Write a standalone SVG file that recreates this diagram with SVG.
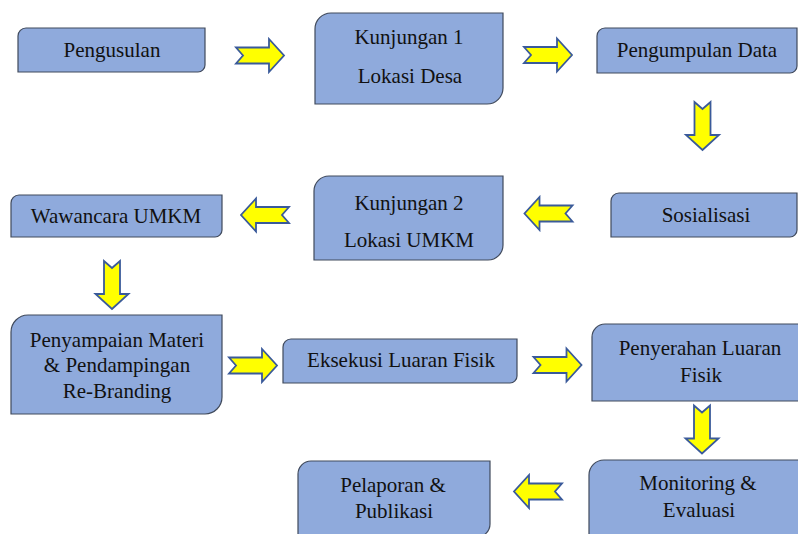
<svg xmlns="http://www.w3.org/2000/svg" xmlns:xlink="http://www.w3.org/1999/xlink" width="798" height="534" viewBox="0 0 798 534">
<style>
.node{fill:#8FAADC;stroke:#404A5C;stroke-width:1.2}
.lbl{font-family:"Liberation Serif","Times New Roman",serif;font-size:21px;fill:#111;text-anchor:middle}
.arr{fill:#FFFF00;stroke:#3A5A9A;stroke-width:1.8;stroke-linejoin:miter}
</style>
<defs>
<path id="arrow" d="M-24,-8 H9 V-16.5 L24,0 L9,16.5 V8 H-24 L-17,0 Z"/>
</defs>
<rect x="0" y="0" width="798" height="534" fill="#ffffff"/>
<g id="connectors">
<use xlink:href="#arrow" class="arr" transform="translate(260,55.5)"/>
<use xlink:href="#arrow" class="arr" transform="translate(548,55)"/>
<use xlink:href="#arrow" class="arr" transform="translate(702.5,126) rotate(90)"/>
<use xlink:href="#arrow" class="arr" transform="translate(548.5,213.5) rotate(180)"/>
<use xlink:href="#arrow" class="arr" transform="translate(265,215) rotate(180)"/>
<use xlink:href="#arrow" class="arr" transform="translate(112,285) rotate(90)"/>
<use xlink:href="#arrow" class="arr" transform="translate(253,365.5)"/>
<use xlink:href="#arrow" class="arr" transform="translate(557.5,365)"/>
<use xlink:href="#arrow" class="arr" transform="translate(702,429.5) rotate(90)"/>
<use xlink:href="#arrow" class="arr" transform="translate(538,491.5) rotate(180)"/>
</g>
<g id="n-pengusulan">
<path class="node" d="M26,28 H205 V65 A7,7 0 0 1 198,72 H18 V36 A8,8 0 0 1 26,28 Z"/>
<text class="lbl" x="112" y="57">Pengusulan</text>
</g>
<g id="n-kunjungan1">
<path class="node" d="M331,13 H503 V88 A16,16 0 0 1 487,104 H315 V29 A16,16 0 0 1 331,13 Z"/>
<text class="lbl" x="409" y="44">Kunjungan 1</text>
<text class="lbl" x="410" y="83">Lokasi Desa</text>
</g>
<g id="n-pengumpulan">
<path class="node" d="M605,28 H797 V66 A7,7 0 0 1 790,73 H597 V36 A8,8 0 0 1 605,28 Z"/>
<text class="lbl" x="697" y="57">Pengumpulan Data</text>
</g>
<g id="n-sosialisasi">
<path class="node" d="M619,193 H797 V230 A7,7 0 0 1 790,237 H611 V201 A8,8 0 0 1 619,193 Z"/>
<text class="lbl" x="706" y="222">Sosialisasi</text>
</g>
<g id="n-kunjungan2">
<path class="node" d="M329,176 H503 V245 A15,15 0 0 1 488,260 H314 V191 A15,15 0 0 1 329,176 Z"/>
<text class="lbl" x="409" y="210">Kunjungan 2</text>
<text class="lbl" x="409" y="247">Lokasi UMKM</text>
</g>
<g id="n-wawancara">
<path class="node" d="M19,195 H222 V230 A7,7 0 0 1 215,237 H11 V203 A8,8 0 0 1 19,195 Z"/>
<text class="lbl" x="116" y="223">Wawancara UMKM</text>
</g>
<g id="n-penyampaian">
<path class="node" d="M28,315 H222 V397 A17,17 0 0 1 205,414 H11 V332 A17,17 0 0 1 28,315 Z"/>
<text class="lbl" x="117" y="347">Penyampaian Materi</text>
<text class="lbl" x="117" y="372">&amp; Pendampingan</text>
<text class="lbl" x="117" y="398">Re-Branding</text>
</g>
<g id="n-eksekusi">
<path class="node" d="M291,339 H517 V376 A7,7 0 0 1 510,383 H283 V347 A8,8 0 0 1 291,339 Z"/>
<text class="lbl" x="401" y="367">Eksekusi Luaran Fisik</text>
</g>
<g id="n-penyerahan">
<path class="node" d="M605,324 H812 V401 H592 V337 A13,13 0 0 1 605,324 Z"/>
<text class="lbl" x="700" y="355">Penyerahan Luaran</text>
<text class="lbl" x="701" y="382">Fisik</text>
</g>
<g id="n-monitoring">
<path class="node" d="M604,460 H812 V550 H589 V475 A15,15 0 0 1 604,460 Z"/>
<text class="lbl" x="698" y="490">Monitoring &amp;</text>
<text class="lbl" x="699" y="517">Evaluasi</text>
</g>
<g id="n-pelaporan">
<path class="node" d="M311,461 H490 V524 A13,13 0 0 1 477,537 H298 V474 A13,13 0 0 1 311,461 Z"/>
<text class="lbl" x="393" y="492">Pelaporan &amp;</text>
<text class="lbl" x="394" y="518">Publikasi</text>
</g>
</svg>
